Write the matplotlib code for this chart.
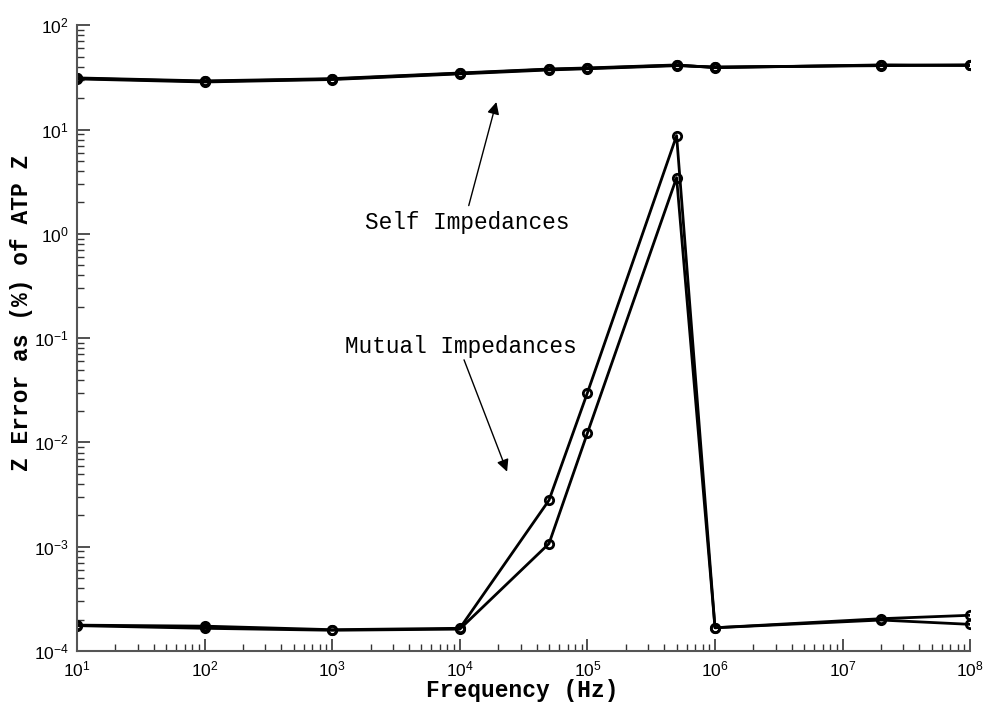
import matplotlib.pyplot as plt
import numpy as np

plt.rcParams['mathtext.fontset'] = 'custom'
plt.rcParams['mathtext.rm'] = 'Liberation Sans'
plt.rcParams['font.family'] = 'Liberation Sans'

freq = [10, 100, 1e3, 1e4, 5e4, 1e5, 5e5, 1e6, 2e7, 1e8]

# self impedance errors (%), several nearly overlapping curves
self_a = [31.0, 29.0, 30.5, 34.6, 37.8, 38.7, 41.4, 39.5, 41.4, 41.4]
self_b = [30.6, 28.6, 30.2, 34.2, 37.3, 38.3, 41.0, 39.9, 41.0, 41.8]
self_c = [31.3, 29.3, 30.8, 34.9, 38.1, 39.0, 41.7, 39.2, 41.7, 41.2]

# mutual impedance errors (%)
mutual_a = [1.77e-4, 1.73e-4, 1.60e-4, 1.65e-4, 2.79e-3, 2.99e-2, 8.75, 1.67e-4, 2.04e-4, 2.2e-4]
mutual_b = [1.75e-4, 1.65e-4, 1.58e-4, 1.62e-4, 1.07e-3, 1.23e-2, 3.46, 1.67e-4, 1.98e-4, 1.8e-4]

fig = plt.figure(figsize=(9.87, 7.03), dpi=100)
ax = fig.add_axes([0.078, 0.074, 0.905, 0.890])

style = dict(color='black', lw=2, marker='o', ms=6, mfc='none', mew=2)
for s in (self_a, self_b, self_c, mutual_a, mutual_b):
    ax.plot(freq, s, **style)

ax.set_xscale('log')
ax.set_yscale('log')
ax.set_xlim(10, 1e8)
ax.set_ylim(1e-4, 1e2)

for side in ('top', 'right'):
    ax.spines[side].set_visible(False)
for side in ('left', 'bottom'):
    ax.spines[side].set_color('#555555')
    ax.spines[side].set_linewidth(1.5)

ax.tick_params(which='both', direction='in', color='#333333', labelsize=12.5)
ax.tick_params(which='major', length=9, width=1.2)
ax.tick_params(which='minor', length=5, width=1)
ax.tick_params(axis='x', pad=6)
ax.tick_params(axis='y', pad=6)
ax.xaxis.set_major_locator(plt.LogLocator(base=10, numticks=20))
ax.xaxis.set_minor_locator(plt.LogLocator(base=10, subs=np.arange(2, 10), numticks=20))

ax.set_xlabel('Frequency (Hz)', family='Liberation Mono', weight='bold', fontsize=16.5, va='center')
ax.set_ylabel('Z Error as (%) of ATP Z', family='Liberation Mono', weight='bold', fontsize=16.5, va='center')
ax.xaxis.set_label_coords(0.498, -0.063)
ax.yaxis.set_label_coords(-0.062, 0.54)

arrow = dict(arrowstyle='-|>', color='black', lw=1, mutation_scale=18)
ax.annotate('', xy=(1.96e4, 19.5), xytext=(1.16e4, 1.76), arrowprops=arrow)
ax.text(1.14e4, 1.29, 'Self Impedances', family='Liberation Mono', fontsize=16.4,
        ha='center', va='center')
ax.annotate('', xy=(2.39e4, 4.95e-3), xytext=(1.06e4, 0.0656), arrowprops=arrow)
ax.text(1.02e4, 0.0836, 'Mutual Impedances', family='Liberation Mono', fontsize=16.4,
        ha='center', va='center')

fig.savefig('out.png', dpi=100)
